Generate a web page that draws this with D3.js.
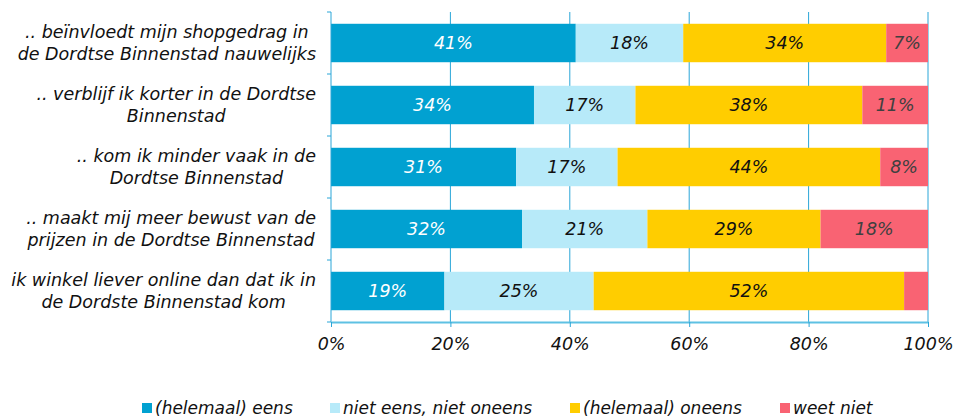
<!DOCTYPE html>
<html lang="nl">
<head>
<meta charset="UTF-8">
<title>Shopgedrag Dordtse Binnenstad</title>
<script src="https://d3js.org/d3.v7.min.js"></script>
<style>
    body { margin: 0; background: #fff; }
    svg text { font-family: "DejaVu Sans", Verdana, sans-serif; font-style: italic; }
</style>
</head>
<body>
<svg id="chart"></svg>
<script>
    const width = 956, height = 417;

    // data
    const statements = [
        [".. beïnvloedt mijn shopgedrag in", "de Dordtse Binnenstad nauwelijks"],
        [".. verblijf ik korter in de Dordtse", "Binnenstad"],
        [".. kom ik minder vaak in de", "Dordtse Binnenstad"],
        [".. maakt mij meer bewust van de", "prijzen in de Dordtse Binnenstad"],
        ["ik winkel liever online dan dat ik in", "de Dordste Binnenstad kom"]
    ];
    const seriesNames = ["(helemaal) eens", "niet eens, niet oneens", "(helemaal) oneens", "weet niet"];
    const eens     = [41, 34, 31, 32, 19];
    const neutraal = [18, 17, 17, 21, 25];
    const oneens   = [34, 38, 44, 29, 52];
    const weetNiet = [7, 11, 8, 18, 4];
    const showLabel = [true, true, true, true, false]; // last "weet niet" has no label
    const xTicks = [0, 20, 40, 60, 80, 100];

    const colors = ["#01a1d1", "#b7eaf9", "#ffcd00", "#f96373"];
    const labelColors = ["#ffffff", "#111111", "#111111", "#404040"];

    const svg = d3.select("#chart").attr("width", width).attr("height", height);

    const plotL = 331, plotR = 928, plotT = 12, plotB = 322;
    const x = d3.scaleLinear().domain([0, 100]).range([plotL, plotR]);
    const y = d3.scaleBand().domain(d3.range(statements.length)).range([plotT, plotB]).paddingInner(0.38).paddingOuter(0.19);

    const rows = statements.map((s, i) => ({ i, vals: [eens[i], neutraal[i], oneens[i], weetNiet[i]] }));
    const stack = d3.stack().keys([0, 1, 2, 3]).value((d, k) => d.vals[k]);
    const layers = stack(rows);

    // gridlines
    svg.append("g").selectAll("line").data(xTicks.filter(t => t > 0)).join("line")
        .attr("x1", d => x(d)).attr("x2", d => x(d))
        .attr("y1", plotT).attr("y2", plotB)
        .attr("stroke", "#2aa6d8").attr("stroke-width", 1);

    // bars
    const g = svg.append("g");
    layers.forEach((layer, k) => {
        g.selectAll(".s" + k).data(layer).join("rect")
            .attr("class", "s" + k)
            .attr("x", d => x(d[0]))
            .attr("y", d => y(d.data.i))
            .attr("width", d => x(d[1]) - x(d[0]))
            .attr("height", y.bandwidth())
            .attr("fill", colors[k]);
        g.selectAll(".t" + k).data(layer.filter(d => k < 3 || showLabel[d.data.i])).join("text")
            .attr("class", "t" + k)
            .attr("x", d => (x(d[0]) + x(d[1])) / 2)
            .attr("y", d => y(d.data.i) + y.bandwidth() / 2 + 6)
            .attr("text-anchor", "middle")
            .attr("font-size", 17.5)
            .attr("fill", labelColors[k])
            .text(d => (d[1] - d[0]) + "%");
    });

    // y axis
    svg.append("line").attr("x1", plotL).attr("x2", plotL).attr("y1", plotT).attr("y2", plotB)
        .attr("stroke", "#2aa6d8");
    const yTickPos = d3.range(statements.length + 1).map(i => plotT + i * (plotB - plotT) / statements.length);
    svg.append("g").selectAll("line").data(yTickPos).join("line")
        .attr("x1", plotL - 4).attr("x2", plotL).attr("y1", d => d).attr("y2", d => d)
        .attr("stroke", "#2aa6d8");

    // x axis
    const xAxis = svg.append("g").attr("transform", `translate(0,${plotB})`)
        .call(d3.axisBottom(x).tickValues(xTicks).tickFormat(d => d + "%").tickSize(5).tickSizeOuter(0));
    xAxis.select(".domain").attr("stroke", "#5ec1e3").attr("stroke-width", 2);
    xAxis.selectAll(".tick line").attr("stroke", "#2aa6d8");
    xAxis.selectAll(".tick text").attr("font-size", 17.5).attr("fill", "#111").attr("y", 16).attr("dy", "0.71em")
        .style("font-family", '"DejaVu Sans", Verdana, sans-serif').style("font-style", "italic");

    // category labels: block right-aligned at 316, lines centered
    const labelRight = 316;
    statements.forEach((lines, i) => {
        const cy = y(i) + y.bandwidth() / 2;
        const tg = svg.append("g");
        const texts = lines.map((l, j) => tg.append("text")
            .attr("font-size", 17.5).attr("fill", "#111")
            .attr("text-anchor", "middle")
            .attr("y", cy + (j - (lines.length - 1) / 2) * 22 + 6)
            .text(l));
        const maxW = d3.max(texts, t => t.node().getComputedTextLength());
        texts.forEach(t => t.attr("x", labelRight - maxW / 2));
    });

    // legend
    const legendX = [142, 330, 570, 780];
    const leg = svg.append("g");
    seriesNames.forEach((name, k) => {
        leg.append("rect").attr("x", legendX[k]).attr("y", 403).attr("width", 10).attr("height", 10).attr("fill", colors[k]);
        leg.append("text").attr("x", legendX[k] + 13).attr("y", 414).attr("font-size", 17).attr("fill", "#111").text(name);
    });
</script>
</body>
</html>
